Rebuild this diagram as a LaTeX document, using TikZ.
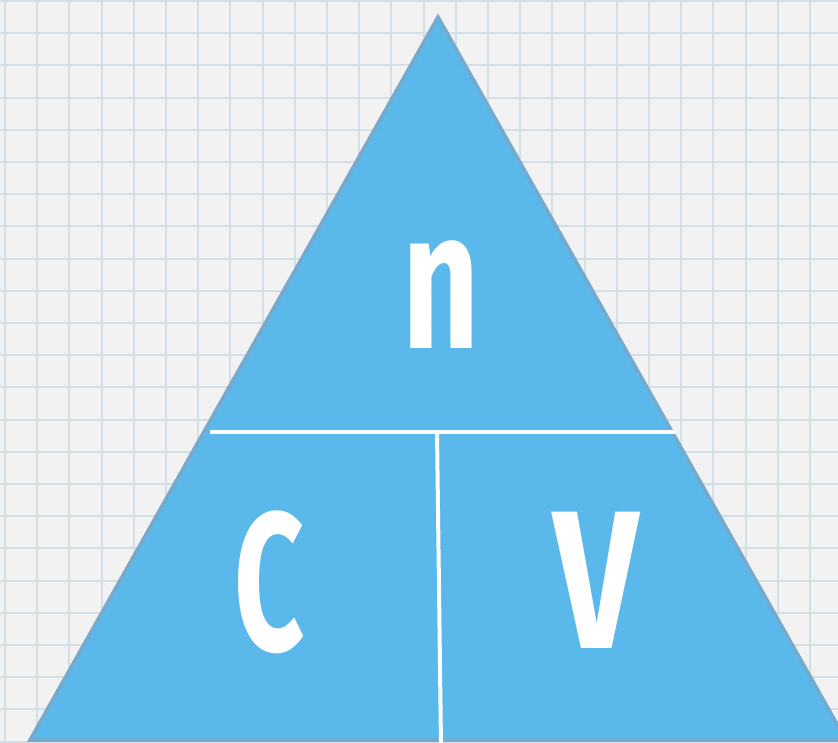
\documentclass[tikz,border=0pt]{standalone}
\usepackage{fontspec}
\setsansfont{Fira Sans}
\usepackage{graphicx}

\definecolor{paper}{RGB}{242,242,243}
\definecolor{gridline}{RGB}{210,223,230}
\definecolor{trifill}{RGB}{82,181,234}
\definecolor{triedge}{RGB}{118,170,204}

\begin{document}
\begin{tikzpicture}[
    x=0.02cm, y=-0.02cm,
    gridrule/.style={draw=gridline, line width=0.04cm},
    triangle/.style={fill=trifill, draw=triedge, line width=0.07cm, line join=miter, fill opacity=0.94},
    divider/.style={draw=white, line width=0.08cm},
    letter/.style={text=white, inner sep=0pt, font=\sffamily\bfseries\fontsize{112}{112}\selectfont}
  ]
  \useasboundingbox (0,0) rectangle (838,743);
  \clip (0,0) rectangle (838,743);
  \fill[paper] (0,0) rectangle (838,743);

  % squared paper
  \foreach \i in {0,...,26} {
    \draw[gridrule] (5+32.2*\i,0) -- (5+32.2*\i,743);
  }
  \foreach \j in {0,...,23} {
    \draw[gridrule] (0,1+32.2*\j) -- (838,1+32.2*\j);
  }

  % formula triangle
  \draw[triangle] (438,17) -- (846,740) -- (30,740) -- cycle;
  \draw[divider] (210,432) -- (675,432);
  \draw[divider] (437,432) -- (441,745);

  \node[letter] (amount) at (441,295) {\scalebox{0.68}[1]{n}};
  \node[letter] (conc) at (270,582) {\scalebox{0.62}[1]{C}};
  \node[letter] (volume) at (596,580) {\scalebox{0.76}[1]{V}};
\end{tikzpicture}
\end{document}
